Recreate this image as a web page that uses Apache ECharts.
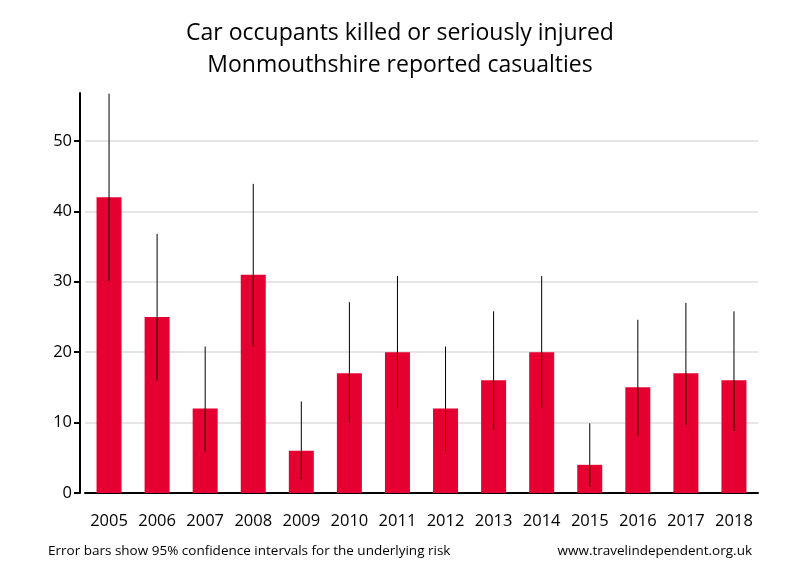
<!DOCTYPE html>
<html><head><meta charset="utf-8">
<script src="https://cdn.jsdelivr.net/npm/echarts@6/dist/echarts.min.js"></script>
<style>html,body{margin:0;padding:0;background:#fff}#c{width:800px;height:580px}</style>
</head><body><div id="c"></div>
<script>
var years = ['2005','2006','2007','2008','2009','2010','2011','2012','2013','2014','2015','2016','2017','2018'];
var casualties = [42, 25, 12, 31, 6, 17, 20, 12, 16, 20, 4, 15, 17, 16];
var ciLow = [30.1, 16.0, 5.9, 20.8, 1.9, 10.0, 12.0, 5.9, 9.0, 12.1, 0.9, 8.1, 9.7, 8.8];
var ciHigh = [56.7, 36.8, 20.8, 43.9, 13.0, 27.1, 30.8, 20.8, 25.8, 30.8, 9.9, 24.6, 27.0, 25.8];

var font = 'Open Sans';
var chart = echarts.init(document.getElementById('c'));
var errData = years.map(function (y, i) { return [i, ciLow[i], ciHigh[i]]; });
chart.setOption({
  animation: false,
  backgroundColor: '#fff',
  textStyle: { fontFamily: font },
  title: {
    text: 'Car occupants killed or seriously injured\nMonmouthshire reported casualties',
    left: 'center', top: 12,
    textStyle: { fontFamily: font, fontSize: 23, fontWeight: 'normal', color: '#000', lineHeight: 32, align: 'center' }
  },
  graphic: [
    { type: 'text', left: 48, top: 544, style: { text: 'Error bars show 95% confidence intervals for the underlying risk', font: '13.5px "Open Sans"', fill: '#000' } },
    { type: 'text', right: 48, top: 544, style: { text: 'www.travelindependent.org.uk', font: '13.5px "Open Sans"', fill: '#000' } }
  ],
  grid: { left: 85, right: 42, top: 93, bottom: 87, containLabel: false },
  xAxis: {
    type: 'category', data: years,
    axisLine: { lineStyle: { color: '#000', width: 2 } },
    axisTick: { show: false },
    axisLabel: { color: '#000', fontSize: 16.5, margin: 20, fontFamily: font, interval: 0, hideOverlap: false }
  },
  yAxis: {
    type: 'value', min: 0, max: 56.8, interval: 10, offset: 5,
    axisLine: { show: true, lineStyle: { color: '#000', width: 2 } },
    axisTick: { show: true, length: 6, lineStyle: { color: '#000', width: 2 } },
    axisLabel: { color: '#000', fontSize: 16.5, margin: 8, fontFamily: font, showMaxLabel: false },
    splitLine: { show: true, showMaxLine: false, lineStyle: { color: '#e6e6e6', width: 2 } }
  },
  series: [
    { type: 'bar', data: casualties, barWidth: 25, itemStyle: { color: '#e60032' } },
    {
      type: 'custom', data: errData, z: 10,
      renderItem: function (params, api) {
        var x = api.value(0);
        var p1 = api.coord([x, api.value(1)]);
        var p2 = api.coord([x, api.value(2)]);
        return { type: 'line', shape: { x1: p1[0], y1: p1[1], x2: p2[0], y2: p2[1] }, style: { stroke: '#000', lineWidth: 1 } };
      }
    }
  ]
});
</script></body></html>
